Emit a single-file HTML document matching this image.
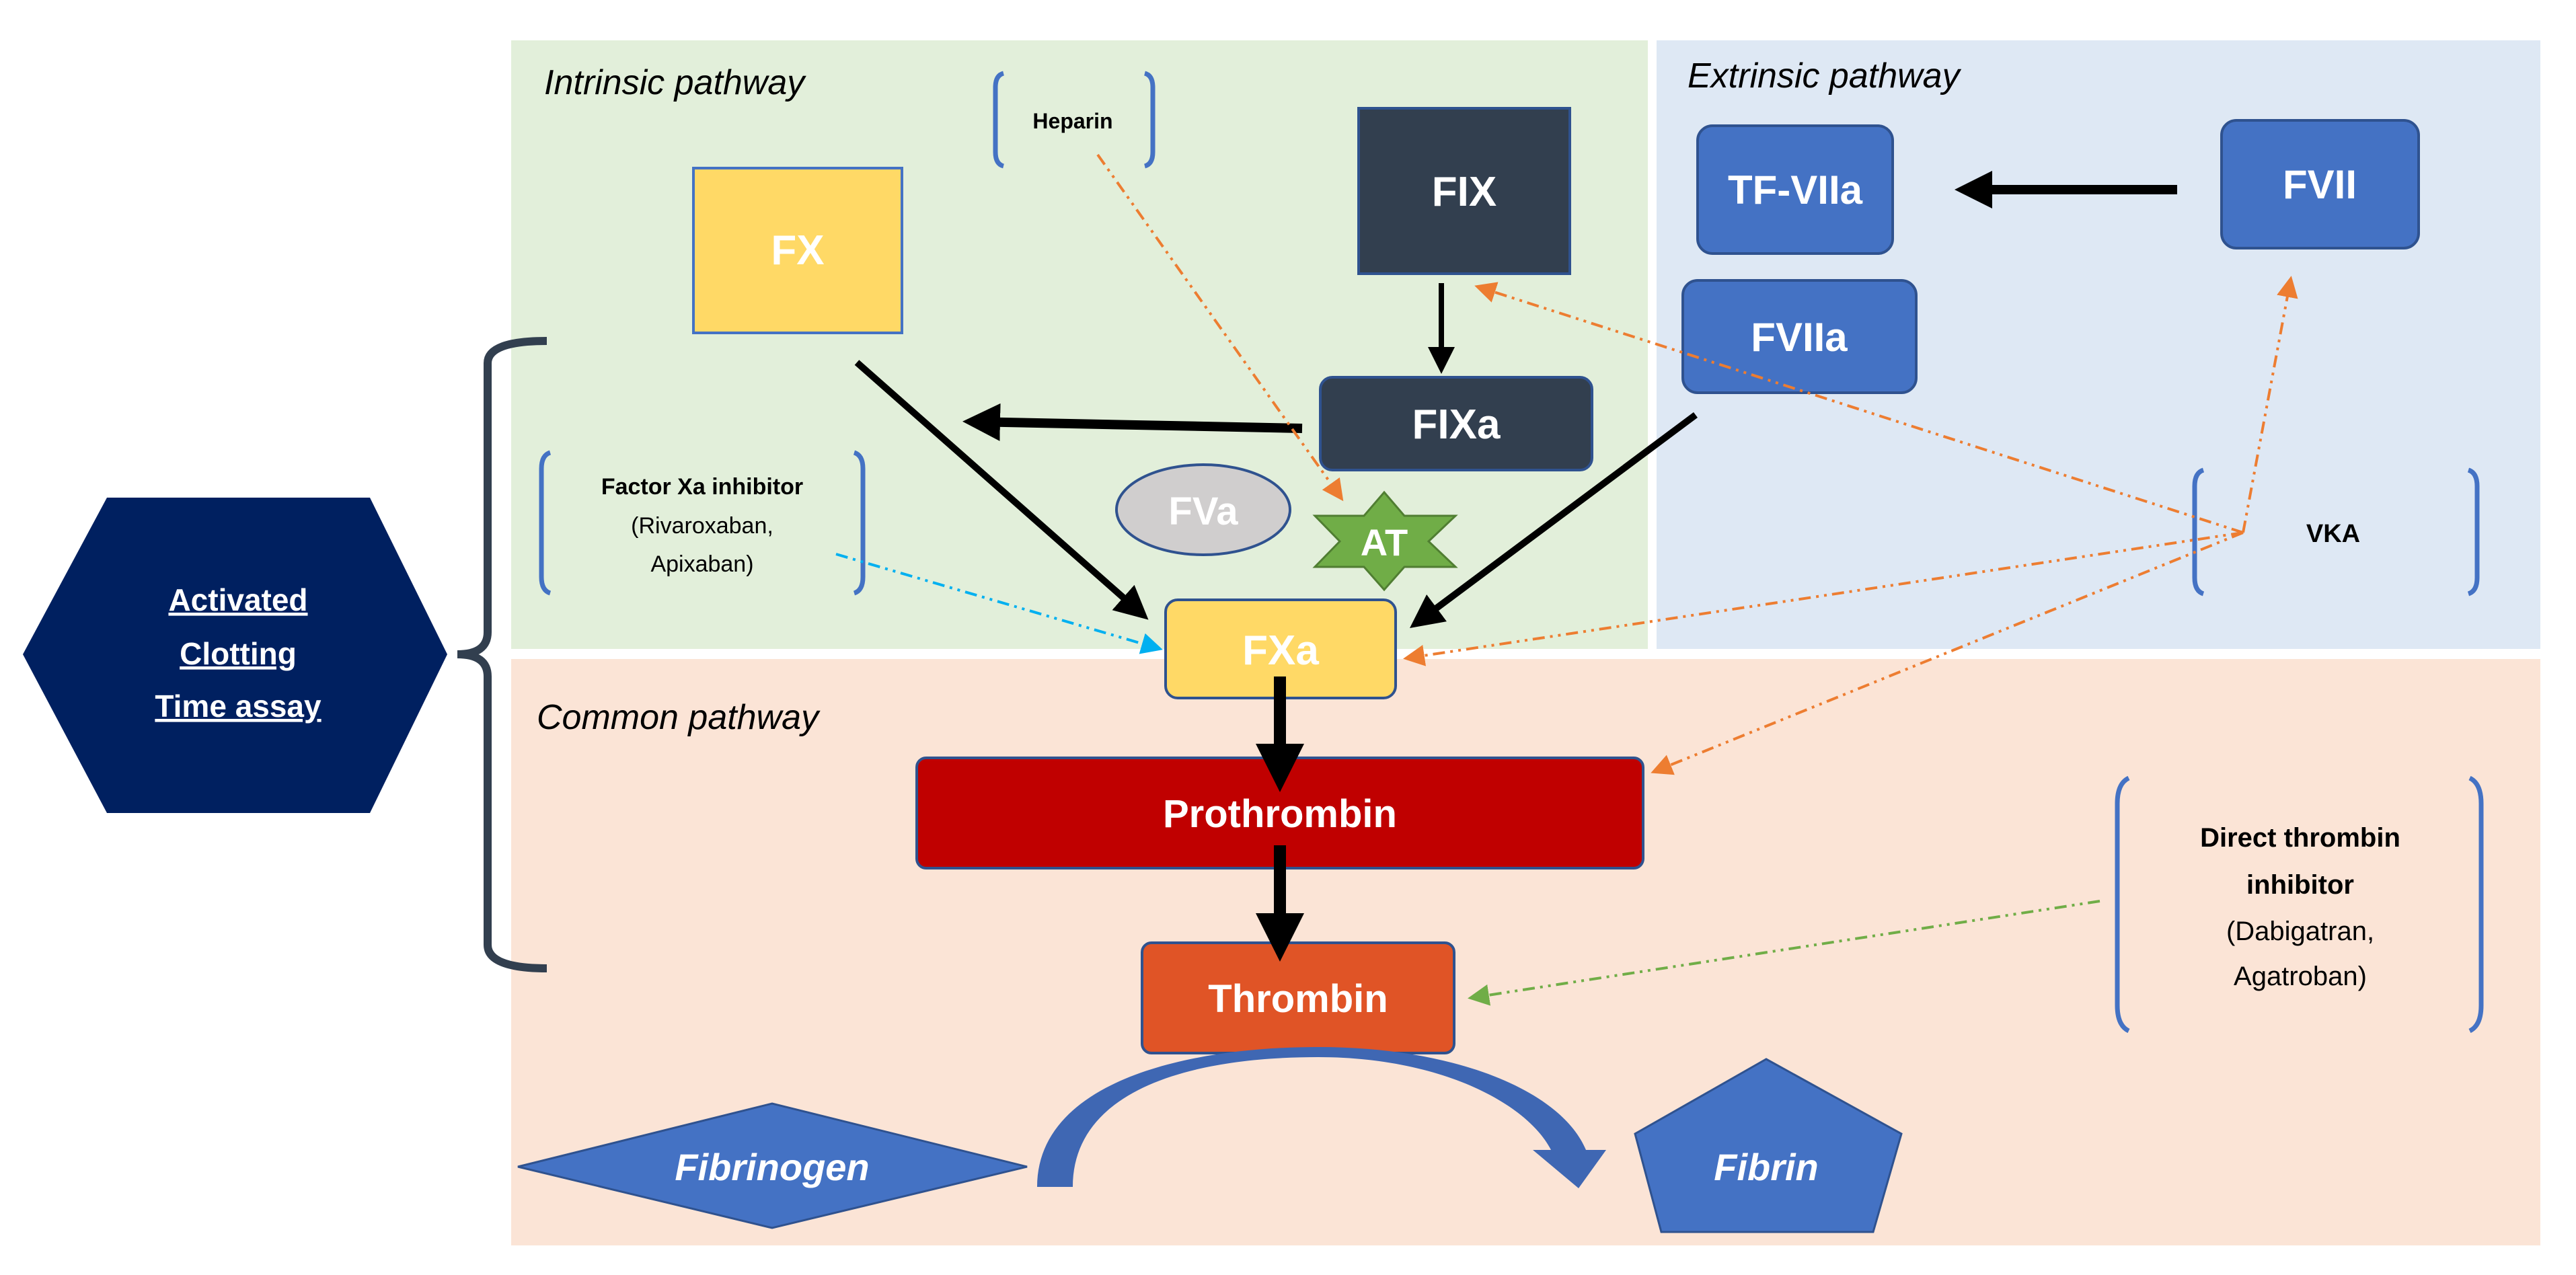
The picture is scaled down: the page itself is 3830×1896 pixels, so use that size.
<!DOCTYPE html>
<html><head><meta charset="utf-8"><style>
html,body{margin:0;padding:0;background:#fff;}
svg{display:block;font-family:"Liberation Sans",sans-serif;}
</style></head><body>
<svg width="3830" height="1896" viewBox="0 0 3830 1896" xmlns="http://www.w3.org/2000/svg">
<defs>
<marker id="ab" markerWidth="4" markerHeight="4" refX="3" refY="2" orient="auto" markerUnits="strokeWidth"><path d="M0,0 L4,2 L0,4 z" fill="#000"/></marker>
<marker id="abs" markerWidth="5" markerHeight="5" refX="4" refY="2.5" orient="auto" markerUnits="strokeWidth"><path d="M0,0 L5,2.5 L0,5 z" fill="#000"/></marker>
<marker id="ao" markerWidth="8" markerHeight="8" refX="7" refY="4" orient="auto" markerUnits="strokeWidth"><path d="M0,0 L8,4 L0,8 z" fill="#ed7d31"/></marker>
<marker id="ac" markerWidth="8" markerHeight="8" refX="7" refY="4" orient="auto" markerUnits="strokeWidth"><path d="M0,0 L8,4 L0,8 z" fill="#00b0f0"/></marker>
<marker id="ag" markerWidth="8" markerHeight="8" refX="7" refY="4" orient="auto" markerUnits="strokeWidth"><path d="M0,0 L8,4 L0,8 z" fill="#70ad47"/></marker>
</defs>
<rect x="760" y="60" width="1690" height="905" fill="#e2efda"/>
<rect x="2463" y="60" width="1314" height="905" fill="#dee8f4"/>
<rect x="760" y="980" width="3017" height="872" fill="#fbe4d6"/>

<text x="809" y="140" font-size="52" font-style="italic" fill="#000">Intrinsic pathway</text>
<text x="2509" y="130" font-size="52" font-style="italic" fill="#000">Extrinsic pathway</text>
<text x="798" y="1084" font-size="52" font-style="italic" fill="#000">Common pathway</text>

<polygon points="159,740 550,740 665,973 550,1209 159,1209 34,973" fill="#002060"/>
<g fill="#fff" font-weight="bold" font-size="46" text-anchor="middle" text-decoration="underline">
<text x="354" y="908">Activated</text>
<text x="354" y="988">Clotting</text>
<text x="354" y="1066">Time assay</text>
</g>
<path d="M813,507 Q725,507 725,540 L725,940 Q725,973 680,973 Q725,973 725,1006 L725,1405 Q725,1440 813,1440" fill="none" stroke="#323f4f" stroke-width="12"/>

<rect x="1031" y="250" width="310" height="245" fill="#ffd966" stroke="#4472c4" stroke-width="4"/>
<text x="1186" y="393" font-size="62" font-weight="bold" fill="#fff" text-anchor="middle">FX</text>
<rect x="2020" y="161" width="314" height="246" fill="#323f4f" stroke="#2f528f" stroke-width="4"/>
<text x="2177" y="306" font-size="62" font-weight="bold" fill="#fff" text-anchor="middle">FIX</text>
<rect x="1963" y="561" width="404" height="138" rx="18" fill="#323f4f" stroke="#2f528f" stroke-width="4"/>
<text x="2165" y="652" font-size="62" font-weight="bold" fill="#fff" text-anchor="middle">FIXa</text>
<ellipse cx="1789" cy="758" rx="129" ry="67" fill="#d0cece" stroke="#2f528f" stroke-width="4"/>
<text x="1789" y="780" font-size="58" font-weight="bold" fill="#fff" text-anchor="middle">FVa</text>
<polygon points="2058,732 2088,767 2164,767 2124,805 2164,843 2088,843 2058,877 2028,843 1955,843 1992,805 1955,767 2028,767" fill="#70ad47" stroke="#507e32" stroke-width="3"/>
<text x="2058" y="826" font-size="56" font-weight="bold" fill="#fff" text-anchor="middle">AT</text>
<rect x="1733" y="892" width="342" height="146" rx="18" fill="#ffd966" stroke="#2f528f" stroke-width="4"/>
<text x="1904" y="988" font-size="62" font-weight="bold" fill="#fff" text-anchor="middle">FXa</text>

<g fill="none" stroke="#4472c4" stroke-width="7">
<path d="M1492,109 Q1480,112 1480,130 L1480,226 Q1480,244 1492,247"/>
<path d="M1702,109 Q1714,112 1714,130 L1714,226 Q1714,244 1702,247"/>
<path d="M818,673 Q805,677 805,697 L805,858 Q805,878 818,882"/>
<path d="M1270,673 Q1283,677 1283,697 L1283,858 Q1283,878 1270,882"/>
<path d="M3276,699 Q3263,703 3263,723 L3263,859 Q3263,879 3276,883"/>
<path d="M3670,699 Q3683,703 3683,723 L3683,859 Q3683,879 3670,883"/>
<path d="M3165,1157 Q3148,1165 3148,1195 L3148,1495 Q3148,1525 3165,1533"/>
<path d="M3672,1157 Q3689,1165 3689,1195 L3689,1495 Q3689,1525 3672,1533"/>
</g>
<text x="1595" y="191" font-size="32" font-weight="bold" text-anchor="middle">Heparin</text>
<text x="1044" y="735" font-size="34" font-weight="bold" text-anchor="middle">Factor Xa inhibitor</text>
<text x="1044" y="793" font-size="34" text-anchor="middle">(Rivaroxaban,</text>
<text x="1044" y="850" font-size="34" text-anchor="middle">Apixaban)</text>
<text x="3469" y="806" font-size="38" font-weight="bold" text-anchor="middle">VKA</text>
<g font-size="40" text-anchor="middle">
<text x="3420" y="1259" font-weight="bold">Direct thrombin</text>
<text x="3420" y="1329" font-weight="bold">inhibitor</text>
<text x="3420" y="1398">(Dabigatran,</text>
<text x="3420" y="1465">Agatroban)</text>
</g>

<rect x="2524" y="187" width="290" height="190" rx="22" fill="#4472c4" stroke="#2f528f" stroke-width="4"/>
<text x="2669" y="303" font-size="60" font-weight="bold" fill="#fff" text-anchor="middle">TF-VIIa</text>
<rect x="3303" y="179" width="293" height="190" rx="22" fill="#4472c4" stroke="#2f528f" stroke-width="4"/>
<text x="3449" y="295" font-size="60" font-weight="bold" fill="#fff" text-anchor="middle">FVII</text>
<rect x="2502" y="417" width="347" height="167" rx="22" fill="#4472c4" stroke="#2f528f" stroke-width="4"/>
<text x="2675" y="522" font-size="60" font-weight="bold" fill="#fff" text-anchor="middle">FVIIa</text>

<rect x="1363" y="1127" width="1080" height="164" rx="14" fill="#c00000" stroke="#2f528f" stroke-width="4"/>
<text x="1903" y="1230" font-size="58" font-weight="bold" fill="#fff" text-anchor="middle">Prothrombin</text>
<rect x="1698" y="1402" width="464" height="164" rx="14" fill="#e05426" stroke="#2f528f" stroke-width="4"/>
<text x="1930" y="1505" font-size="58" font-weight="bold" fill="#fff" text-anchor="middle">Thrombin</text>

<polygon points="770,1735 1148,1641 1527,1735 1148,1826" fill="#4472c4" stroke="#2f528f" stroke-width="3"/>
<text x="1148" y="1755" font-size="56" font-weight="bold" font-style="italic" fill="#fff" text-anchor="middle">Fibrinogen</text>
<polygon points="2626,1575 2827,1686 2785,1832 2470,1832 2431,1686" fill="#4472c4" stroke="#2f528f" stroke-width="3"/>
<text x="2626" y="1755" font-size="56" font-weight="bold" font-style="italic" fill="#fff" text-anchor="middle">Fibrin</text>

<path d="M1542,1765 C1542,1610 1760,1557 1960,1557 C2160,1557 2320,1620 2358,1710 L2388,1710 L2347,1767 L2279,1710 L2306,1710 C2270,1640 2140,1572 1960,1572 C1760,1572 1595,1625 1595,1765 Z" fill="#3f67b3"/>

<g stroke="#000" fill="none">
<line x1="1274" y1="539" x2="1700" y2="915" stroke-width="10" marker-end="url(#abs)"/>
<line x1="1936" y1="637" x2="1445" y2="627" stroke-width="14" marker-end="url(#ab)"/>
<line x1="2143" y1="421" x2="2143" y2="548" stroke-width="8" marker-end="url(#abs)"/>
<line x1="2521" y1="617" x2="2104" y2="928" stroke-width="10" marker-end="url(#abs)"/>
<line x1="3237" y1="282" x2="2920" y2="282" stroke-width="14" marker-end="url(#ab)"/>
<line x1="1903" y1="1006" x2="1903" y2="1160" stroke-width="18" marker-end="url(#ab)"/>
<line x1="1903" y1="1257" x2="1903" y2="1412" stroke-width="18" marker-end="url(#ab)"/>
</g>

<g fill="none" stroke-width="4" stroke-dasharray="18,8,4,8,4,8">
<line x1="1632" y1="230" x2="1995" y2="742" stroke="#ed7d31" marker-end="url(#ao)"/>
<line x1="1243" y1="824" x2="1725" y2="965" stroke="#00b0f0" marker-end="url(#ac)"/>
<line x1="3335" y1="792" x2="2196" y2="426" stroke="#ed7d31" marker-end="url(#ao)"/>
<line x1="3335" y1="792" x2="3406" y2="414" stroke="#ed7d31" marker-end="url(#ao)"/>
<line x1="3335" y1="792" x2="2090" y2="979" stroke="#ed7d31" marker-end="url(#ao)"/>
<line x1="3335" y1="792" x2="2458" y2="1148" stroke="#ed7d31" marker-end="url(#ao)"/>
<line x1="3122" y1="1340" x2="2186" y2="1484" stroke="#70ad47" marker-end="url(#ag)"/>
</g>
</svg>
</body></html>
